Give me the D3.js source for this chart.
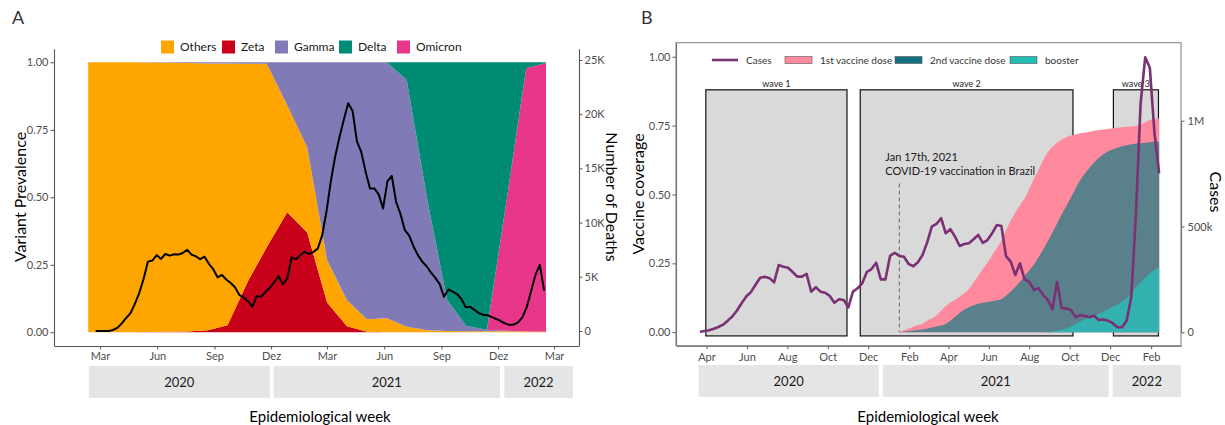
<!DOCTYPE html>
<html>
<head>
<meta charset="utf-8">
<script src="https://cdn.jsdelivr.net/npm/d3@7"></script>
<style>
  body { margin: 0; background: #fff; }
  text { font-family: Lato, "Open Sans", sans-serif; }
</style>
</head>
<body>
<script>
// ---------------- DATA ----------------
// Panel A: variant prevalence (monthly-ish samples)
const variantDates = ["2020-02-11","2020-03-14","2020-04-15","2020-05-17","2020-06-18","2020-07-20","2020-08-21","2020-09-22","2020-10-25","2020-11-24","2020-12-27","2021-01-28","2021-03-01","2021-04-02","2021-05-04","2021-06-05","2021-07-07","2021-08-10","2021-09-10","2021-10-11","2021-11-13","2021-12-17","2022-01-15","2022-02-16"];
const zeta    = [0,0,0,0.001,0.002,0.003,0.008,0.026,0.19,0.315,0.445,0.37,0.11,0.022,0.002,0,0,0,0,0,0,0,0,0];
const others  = [1,1,1,0.998,0.996,0.994,0.988,0.97,0.805,0.68,0.395,0.315,0.157,0.097,0.046,0.052,0.021,0.008,0.005,0.004,0.004,0.004,0.003,0.002];
const gamma   = [0,0,0,0.001,0.002,0.003,0.004,0.004,0.005,0.005,0.16,0.315,0.733,0.881,0.952,0.948,0.913,0.472,0.115,0.019,0.005,0.002,0,0];
const omicron = [0,0,0,0,0,0,0,0,0,0,0,0,0,0,0,0,0,0,0,0,0,0.52,0.975,0.995];
const delta   = [0,0,0,0,0,0,0,0,0,0,0,0,0,0,0,0,0.066,0.52,0.88,0.977,0.991,0.474,0.022,0.003];
const variantNames  = ["Others","Zeta","Gamma","Delta","Omicron"];
const variantColors = {Others:"#ffa500", Zeta:"#c80019", Gamma:"#807bb6", Delta:"#008c74", Omicron:"#e8378a"};

// Panel A: weekly deaths, epidemiological weeks starting 2020-02-23
const deathsStart = "2020-02-23";
const deaths = [0,0,0,0,100,300,700,1200,1650,2500,
  3500,4800,6400,6500,7000,6650,7100,6950,7080,7050,
  7200,7500,7050,6900,6620,6850,6200,5700,4950,5170,
  4750,4420,4040,3330,3080,2730,2240,3230,3170,3600,
  4000,4490,5070,4310,4860,6800,6610,7010,7320,7100,
  7300,7600,8800,11000,13800,16100,17900,19500,21000,20300,
  17500,16500,14700,13150,13150,12600,11300,13800,14300,11900,
  10800,9300,8800,7800,7000,6400,5970,5400,4900,4330,
  3150,3830,3640,3410,2950,2180,2230,1950,1650,1500,
  1460,1280,1110,920,700,560,600,800,1250,2200,
  3700,5170,6100,3720];

const ticksA = ["2020-03-01","2020-06-01","2020-09-01","2020-12-01","2021-03-01","2021-06-01","2021-09-01","2021-12-01","2022-03-01"];
const tickLabelsA = ["Mar","Jun","Sep","Dez","Mar","Jun","Sep","Dez","Mar"];
const prevTicks = [0,0.25,0.5,0.75,1];
const deathTicks = [0,5000,10000,15000,20000,25000];
const deathTickLabels = ["0","5K","10K","15K","20K","25K"];

// Panel B: weekly cases (thousands), epidemiological weeks starting 2020-03-22
const casesStart = "2020-03-22";
const casesK = [3,6,10,17,25,36,55,75,103,137,
  169,190,225,258,262,256,236,318,310,305,
  285,263,263,276,192,213,192,187,172,140,
  156,153,118,192,208,232,285,299,329,250,
  250,361,376,361,357,323,312,331,365,425,
  499,512,539,468,487,452,408,417,421,440,
  460,423,436,468,507,502,360,334,271,326,
  250,239,200,208,176,153,109,239,113,113,
  105,71,82,77,71,78,58,61,55,43,
  24,24,55,168,560,1080,1300,1250,940,751];

// Panel B: weekly vaccine coverage starting 2021-01-17
const vaccStart = "2021-01-17";
const dose1 = [0.002,0.007,0.013,0.02,0.026,0.031,0.042,0.05,0.062,0.078,
  0.095,0.108,0.118,0.129,0.141,0.157,0.18,0.205,0.23,0.253,
  0.279,0.305,0.333,0.37,0.405,0.435,0.46,0.485,0.52,0.555,
  0.59,0.625,0.653,0.673,0.688,0.7,0.708,0.714,0.718,0.722,
  0.725,0.728,0.731,0.734,0.736,0.738,0.74,0.742,0.744,0.746,
  0.747,0.749,0.753,0.762,0.77,0.774,0.777];
const dose2 = [0.001,0.002,0.004,0.006,0.008,0.01,0.013,0.017,0.021,0.024,
  0.03,0.042,0.056,0.07,0.082,0.091,0.098,0.103,0.107,0.11,
  0.113,0.116,0.12,0.132,0.148,0.165,0.183,0.204,0.225,0.246,
  0.272,0.3,0.33,0.362,0.395,0.427,0.458,0.49,0.522,0.553,
  0.576,0.597,0.616,0.632,0.646,0.657,0.664,0.67,0.675,0.679,
  0.682,0.685,0.686,0.688,0.69,0.691,0.692];
const booster = [0,0,0,0,0,0,0,0,0,0,
  0,0,0,0,0,0,0,0,0,0,
  0,0,0,0,0,0,0,0,0,0,
  0,0.001,0.002,0.003,0.005,0.008,0.014,0.022,0.03,0.039,
  0.048,0.055,0.061,0.067,0.075,0.083,0.092,0.1,0.11,0.123,
  0.14,0.162,0.18,0.198,0.213,0.226,0.236];

const waves = [
  {label:"wave 1", start:"2020-03-31", end:"2020-10-30"},
  {label:"wave 2", start:"2020-11-19", end:"2021-10-06"},
  {label:"wave 3", start:"2021-12-06", end:"2022-02-12"}
];
const waveTop = 0.88, waveBottom = -0.0135;
const vaccDate = "2021-01-17";
const annotation = ["Jan 17th, 2021", "COVID-19 vaccination in Brazil"];

const ticksB = ["2020-04-01","2020-06-01","2020-08-01","2020-10-01","2020-12-01","2021-02-01","2021-04-01","2021-06-01","2021-08-01","2021-10-01","2021-12-01","2022-02-01"];
const tickLabelsB = ["Apr","Jun","Aug","Oct","Dec","Feb","Apr","Jun","Aug","Oct","Dec","Feb"];
const covTicks = [0,0.25,0.5,0.75,1];
const caseTicks = [0,500000,1000000];
const caseTickLabels = ["0","500k","1M"];

const yearsA = [{y:"2020",s:"2020-02-12",e:"2020-11-29"},{y:"2021",s:"2020-12-05",e:"2021-12-04"},{y:"2022",s:"2021-12-11",e:"2022-03-31"}];
const yearsB = [{y:"2020",s:"2020-03-20",e:"2020-12-17"},{y:"2021",s:"2020-12-23",e:"2021-11-29"},{y:"2022",s:"2021-12-05",e:"2022-03-18"}];

const vaccNames = ["1st vaccine dose","2nd vaccine dose","booster"];
const vaccFill = ["#ff8a9e","#5a808c","#34b2b0"];
const vaccLegendFill = ["#ff8a9e","#126f7f","#22bdb5"];
const casesColor = "#7b3074";

// ---------------- HELPERS ----------------
const parse = d3.utcParse("%Y-%m-%d");
const svg = d3.select("body").append("svg").attr("width",1225).attr("height",425);
const tickCol = "#4d4d4d", axisCol = "#555";
function styleAxis(g){
  g.selectAll("path.domain").attr("stroke",axisCol).attr("stroke-width",1.1);
  g.selectAll(".tick line").attr("stroke",axisCol);
  g.selectAll(".tick text").attr("fill",tickCol).style("font-size","11px").style("font-family","Lato, sans-serif");
}

// ================= PANEL A =================
const xA = d3.scaleUtc().domain([parse("2019-12-18"), parse("2022-04-10")]).range([54,579]);
const yA = d3.scaleLinear().domain([-0.05,1.05]).range([345.8,48.8]);
const yAR = d3.scaleLinear().domain([-1365,26030]).range([345.8,48.8]);

const vRows = variantDates.map((d,i)=>({date:parse(d), Zeta:zeta[i], Others:others[i], Gamma:gamma[i], Omicron:omicron[i], Delta:delta[i]}));
const stackA = d3.stack().keys(["Zeta","Others","Gamma","Omicron","Delta"])(vRows);
const areaA = d3.area().x(d=>xA(d.data.date)).y0(d=>yA(d[0])).y1(d=>yA(d[1]));
svg.append("g").selectAll("path").data(stackA).join("path")
  .attr("d",areaA).attr("fill",d=>variantColors[d.key]);

const dStart = parse(deathsStart);
const deathPts = deaths.map((v,i)=>({date:d3.utcDay.offset(dStart,7*i), v}));
svg.append("path").datum(deathPts)
  .attr("d",d3.line().x(d=>xA(d.date)).y(d=>yAR(d.v)))
  .attr("fill","none").attr("stroke","#000").attr("stroke-width",2).attr("stroke-linejoin","round");

svg.append("g").attr("transform","translate(54,0)")
  .call(d3.axisLeft(yA).tickValues(prevTicks).tickFormat(d3.format(".2f")).tickSize(3.5).tickSizeOuter(0).tickPadding(2))
  .call(styleAxis);
svg.append("g").attr("transform","translate(579,0)")
  .call(d3.axisRight(yAR).tickValues(deathTicks).tickFormat((d,i)=>deathTickLabels[i]).tickSize(3.5).tickSizeOuter(0).tickPadding(2))
  .call(styleAxis);
svg.append("g").attr("transform","translate(0,346)")
  .call(d3.axisBottom(xA).tickValues(ticksA.map(parse)).tickFormat((d,i)=>tickLabelsA[i]).tickSize(3.5).tickSizeOuter(0).tickPadding(3))
  .call(styleAxis);

// year strips A
const gyA = svg.append("g");
yearsA.forEach(r=>{
  gyA.append("rect").attr("x",xA(parse(r.s))).attr("y",366).attr("width",xA(parse(r.e))-xA(parse(r.s))).attr("height",32).attr("fill","#e5e5e5");
  gyA.append("text").attr("x",(xA(parse(r.s))+xA(parse(r.e)))/2).attr("y",382).attr("dy","0.35em")
    .attr("text-anchor","middle").style("font-size","13px").attr("fill","#1a1a1a").text(r.y);
});

// legend A
const legXA = [161,222,275,339,397];
variantNames.forEach((n,i)=>{
  svg.append("rect").attr("x",legXA[i]).attr("y",40.5).attr("width",13).attr("height",13).attr("fill",variantColors[n]);
  svg.append("text").attr("x",legXA[i]+19).attr("y",47).attr("dy","0.35em").style("font-size","12px").attr("fill","#1a1a1a").text(n);
});

// titles A
svg.append("text").attr("x",12).attr("y",24).style("font-size","18px").attr("fill","#333").text("A");
svg.append("text").attr("transform","translate(20,197) rotate(-90)").attr("text-anchor","middle").attr("dy","0.35em")
  .style("font-size","16px").attr("fill","#000").text("Variant Prevalence");
svg.append("text").attr("transform","translate(612,197) rotate(90)").attr("text-anchor","middle").attr("dy","0.35em")
  .style("font-size","16px").attr("fill","#000").text("Number of Deaths");
svg.append("text").attr("x",320).attr("y",417).attr("text-anchor","middle").attr("dy","0.35em")
  .style("font-size","15px").attr("fill","#000").text("Epidemiological week");

// ================= PANEL B =================
const xB = d3.scaleUtc().domain([parse("2020-02-15"), parse("2022-03-18")]).range([676,1181]);
const yB = d3.scaleLinear().domain([-0.049,1.051]).range([345.7,42.7]);
const yBR = d3.scaleLinear().domain([0,1000000]).range([332.3,120.7]);

// waves
const gw = svg.append("g");
waves.forEach(w=>{
  const x0 = xB(parse(w.start)), x1 = xB(parse(w.end));
  gw.append("rect").attr("x",x0).attr("y",yB(waveTop)).attr("width",x1-x0).attr("height",yB(waveBottom)-yB(waveTop))
    .attr("fill","#d9d9d9").attr("stroke","#111").attr("stroke-width",1.2);
  gw.append("text").attr("x",(x0+x1)/2).attr("y",yB(waveTop)-3).attr("text-anchor","middle")
    .style("font-size","9px").attr("fill","#222").text(w.label);
});

// dashed vaccination line + annotation
svg.append("line").attr("x1",xB(parse(vaccDate))).attr("x2",xB(parse(vaccDate)))
  .attr("y1",yB(0.54)).attr("y2",yB(0)).attr("stroke","#666").attr("stroke-width",1).attr("stroke-dasharray","4,3");
annotation.forEach((t,i)=>{
  svg.append("text").attr("x",xB(parse(vaccDate))-14).attr("y",157+i*13.7).attr("dy","0.35em")
    .style("font-size","11px").attr("fill","#1a1a1a").text(t);
});

// vaccine areas
const vStart = parse(vaccStart);
const vaccSeries = [dose1,dose2,booster];
vaccSeries.forEach((s,k)=>{
  const pts = s.map((v,i)=>({date:d3.utcDay.offset(vStart,7*i), v}));
  const first = k===2 ? 30 : 0;
  svg.append("path").datum(pts.slice(first))
    .attr("d",d3.area().curve(d3.curveMonotoneX).x(d=>xB(d.date)).y0(yB(0)).y1(d=>yB(d.v)))
    .attr("fill",vaccFill[k]);
});

// cases line
const cStart = parse(casesStart);
const casePts = casesK.map((v,i)=>({date:d3.utcDay.offset(cStart,7*i), v:v*1000}));
svg.append("path").datum(casePts)
  .attr("d",d3.line().x(d=>xB(d.date)).y(d=>yBR(d.v)))
  .attr("fill","none").attr("stroke",casesColor).attr("stroke-width",2.6).attr("stroke-linejoin","round");

// axes B
svg.append("g").attr("transform","translate(676,0)")
  .call(d3.axisLeft(yB).tickValues(covTicks).tickFormat(d3.format(".2f")).tickSize(3.5).tickSizeOuter(0).tickPadding(2))
  .call(styleAxis);
svg.append("g").attr("transform","translate(1181,0)")
  .call(d3.axisRight(yBR).tickValues(caseTicks).tickFormat((d,i)=>caseTickLabels[i]).tickSize(3.5).tickSizeOuter(0).tickPadding(3))
  .call(styleAxis);
svg.append("g").attr("transform","translate(0,345.7)")
  .call(d3.axisBottom(xB).tickValues(ticksB.map(parse)).tickFormat((d,i)=>tickLabelsB[i]).tickSize(3.5).tickSizeOuter(0).tickPadding(4))
  .call(styleAxis);
// panel border
svg.append("rect").attr("x",676).attr("y",42.7).attr("width",1181-676).attr("height",345.7-42.7)
  .attr("fill","none").attr("stroke","#8a8a8a").attr("stroke-width",1.1);

// legend B
svg.append("line").attr("x1",712).attr("x2",738).attr("y1",60).attr("y2",60).attr("stroke",casesColor).attr("stroke-width",2.6);
svg.append("text").attr("x",746).attr("y",60).attr("dy","0.35em").style("font-size","10px").attr("fill","#333").text("Cases");
const legBoxX = [785,895,1010];
vaccNames.forEach((n,i)=>{
  svg.append("rect").attr("x",legBoxX[i]).attr("y",56.5).attr("width",27).attr("height",7).attr("fill",vaccLegendFill[i])
    .attr("stroke","#555").attr("stroke-width",0.6);
  svg.append("text").attr("x",legBoxX[i]+35).attr("y",60).attr("dy","0.35em").style("font-size","10px").attr("fill","#333").text(n);
});

// year strips B
const gyB = svg.append("g");
yearsB.forEach(r=>{
  gyB.append("rect").attr("x",xB(parse(r.s))).attr("y",365).attr("width",xB(parse(r.e))-xB(parse(r.s))).attr("height",32).attr("fill","#e5e5e5");
  gyB.append("text").attr("x",(xB(parse(r.s))+xB(parse(r.e)))/2).attr("y",381).attr("dy","0.35em")
    .attr("text-anchor","middle").style("font-size","13px").attr("fill","#1a1a1a").text(r.y);
});

// titles B
svg.append("text").attr("x",641).attr("y",24).style("font-size","18px").attr("fill","#333").text("B");
svg.append("text").attr("transform","translate(638,194) rotate(-90)").attr("text-anchor","middle").attr("dy","0.35em")
  .style("font-size","16px").attr("fill","#000").text("Vaccine coverage");
svg.append("text").attr("transform","translate(1216,192) rotate(90)").attr("text-anchor","middle").attr("dy","0.35em")
  .style("font-size","16px").attr("fill","#000").text("Cases");
svg.append("text").attr("x",928).attr("y",417).attr("text-anchor","middle").attr("dy","0.35em")
  .style("font-size","15px").attr("fill","#000").text("Epidemiological week");
</script>
</body>
</html>
